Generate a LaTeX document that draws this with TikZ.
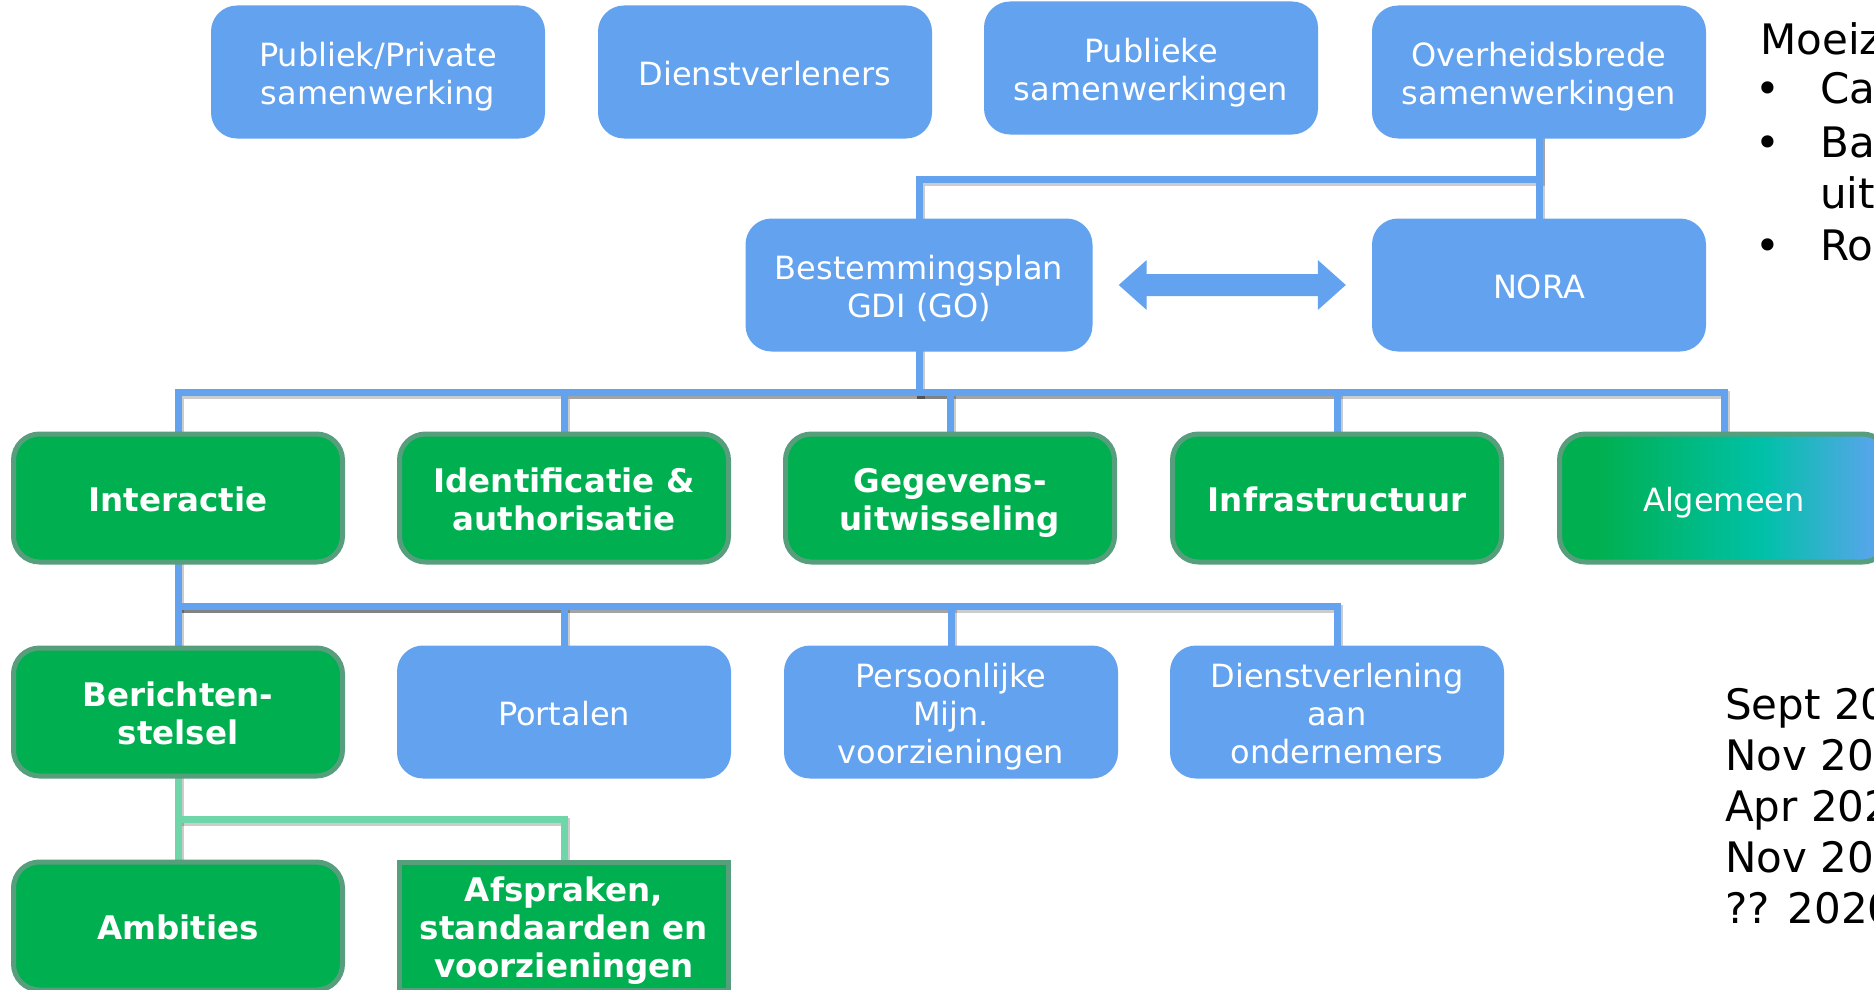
\documentclass[tikz,border=0pt]{standalone}
\usepackage{fontspec}
\setmainfont{DejaVu Sans}
\usetikzlibrary{positioning,calc,backgrounds}

\definecolor{boxblue}{RGB}{99,162,238}
\definecolor{themegreen}{RGB}{0,176,80}
\definecolor{themeborder}{RGB}{86,158,124}
\definecolor{linkgreen}{RGB}{110,214,168}
\definecolor{algteal}{RGB}{0,193,168}
\definecolor{algblue}{RGB}{84,166,232}

\pgfdeclarehorizontalshading{algshade}{100bp}{color(0bp)=(themegreen); color(31bp)=(themegreen); color(56bp)=(algteal); color(72bp)=(algblue); color(100bp)=(algblue)}
\newcommand{\boxtext}[1]{\rule{0pt}{36pt}#1\rule[-9pt]{0pt}{9pt}}

\begin{document}
\begin{tikzpicture}
    [
      x=1pt,y=-1pt,
      block/.style={rectangle,rounded corners=26pt,fill=boxblue,text=white,minimum width=334pt,minimum height=133pt,inner sep=0pt,align=center,font=\fontsize{32}{38}\selectfont},
      theme/.style={block,fill=themegreen,draw=themeborder,line width=5pt,minimum width=329pt,minimum height=128pt,font=\fontsize{32.5}{38}\selectfont\bfseries},
      link/.style={draw=boxblue,line width=7pt,line cap=rect},
      sublink/.style={link,draw=linkgreen},
      linkshadow/.style={draw=black,opacity=0.2,line width=8pt,line cap=rect,transform canvas={shift={(2pt,-3pt)}}},
      note/.style={anchor=base west,inner sep=0pt,font=\fontsize{42}{51}\selectfont},
    ]
    \useasboundingbox (0,0) rectangle (1874,990);
    \clip (0,0) rectangle (1874,990);

    % top row
    \node (ppp) [block] at (378,72) {\boxtext{Publiek/Private\\samenwerking}};
    \node (dv) [block] at (765,72) {\boxtext{Dienstverleners}};
    \node (psw) [block] at (1151,68) {\boxtext{Publieke\\samenwerkingen}};
    \node (osw) [block] at (1539,72) {\boxtext{Overheidsbrede\\samenwerkingen}};

    \node (gdi) [block,minimum width=347pt] at (919,285) {\boxtext{Bestemmingsplan\\GDI (GO)}};
    \node (nora) [block] at (1539,285) {\boxtext{NORA}};

    % themes
    \node (interactie) [theme] at (178,498) {\boxtext{Interactie}};
    \node (ida) [theme] at (564,498) {\boxtext{Identificatie \&\\authorisatie}};
    \node (gegevens) [theme] at (950,498) {\boxtext{Gegevens-\\uitwisseling}};
    \node (infra) [theme] at (1337,498) {\boxtext{Infrastructuur}};
    \node (alg) [theme,font=\fontsize{32}{38}\selectfont,shading=algshade] at (1724,498) {\boxtext{Algemeen}};

    \node (berichten) [theme] at (178,712) {\boxtext{Berichten-\\stelsel}};
    \node (portalen) [block] at (564,712) {\boxtext{Portalen}};
    \node (pmv) [block] at (951,712) {\boxtext{Persoonlijke\\Mijn.\\voorzieningen}};
    \node (dvo) [block] at (1337,712) {\boxtext{Dienstverlening\\aan\\ondernemers}};

    \node (ambities) [theme] at (178,926) {\boxtext{Ambities}};
    \node (afspraken) [theme,sharp corners] at (564,926) {\boxtext{Afspraken,\\standaarden en\\voorzieningen}};

    \coordinate (bus1) at (0,179);
    \coordinate (bus2) at (0,392);
    \coordinate (bus3) at (0,606);
    \coordinate (bus4) at (0,819);

    % shadows first, then the lines
    \begin{scope}[on background layer]
      \foreach \s/\u in {linkshadow/linkshadow,link/sublink} {
        \draw [style=\s] (osw.south) -- (osw.south |- bus1) -| (gdi.north);
        \draw [style=\s] (osw.south) -- (nora.north);
        \draw [style=\s] (gdi.south) -- (gdi.south |- bus2) -| (interactie.north);
        \foreach \n in {ida,gegevens,infra,alg}
          \draw [style=\s] (gdi.south |- bus2) -| (\n.north);
        \draw [style=\s] (interactie.south) -- (interactie.south |- bus3) -| (berichten.north);
        \foreach \n in {portalen,pmv,dvo}
          \draw [style=\s] (interactie.south |- bus3) -| (\n.north);
        \draw [style=\u] (berichten.south) -- (berichten.south |- bus4) -| (ambities.north);
        \draw [style=\u] (berichten.south |- bus4) -| (afspraken.north);
      }
    \end{scope}

    % double arrow between GDI and NORA
    \path (gdi.east) ++(26,0) coordinate (al);
    \path (nora.west) ++(-26,0) coordinate (ar);
    \fill [boxblue] (al) -- ++(28,-25) -- ++(0,14) -- ($(ar)+(-28,-11)$) -- ++(0,-14)
      -- (ar) -- ++(-28,25) -- ++(0,-14) -- ($(al)+(28,11)$) -- ++(0,14) -- cycle;

    % side notes
    \node (mz) [note] at (1760,55) {Moeiz};
    \node (b1) [note] at (1755,103) {•};
    \node (ca) [note] at (1820,103) {Ca};
    \node (b2) [note] at (1755,157) {•};
    \node (ba) [note] at (1820,157) {Ba};
    \node (uit) [note] at (1820,208) {uit};
    \node (b3) [note] at (1755,260) {•};
    \node (ro) [note] at (1820,260) {Ro};

    \foreach \t [count=\i] in {Sept 20,Nov 20,Apr 202,Nov 20,?? 2020}
      \node (date\i) [note] at (1725,{668+51*\i}) {\t};

  \end{tikzpicture}
\end{document}
